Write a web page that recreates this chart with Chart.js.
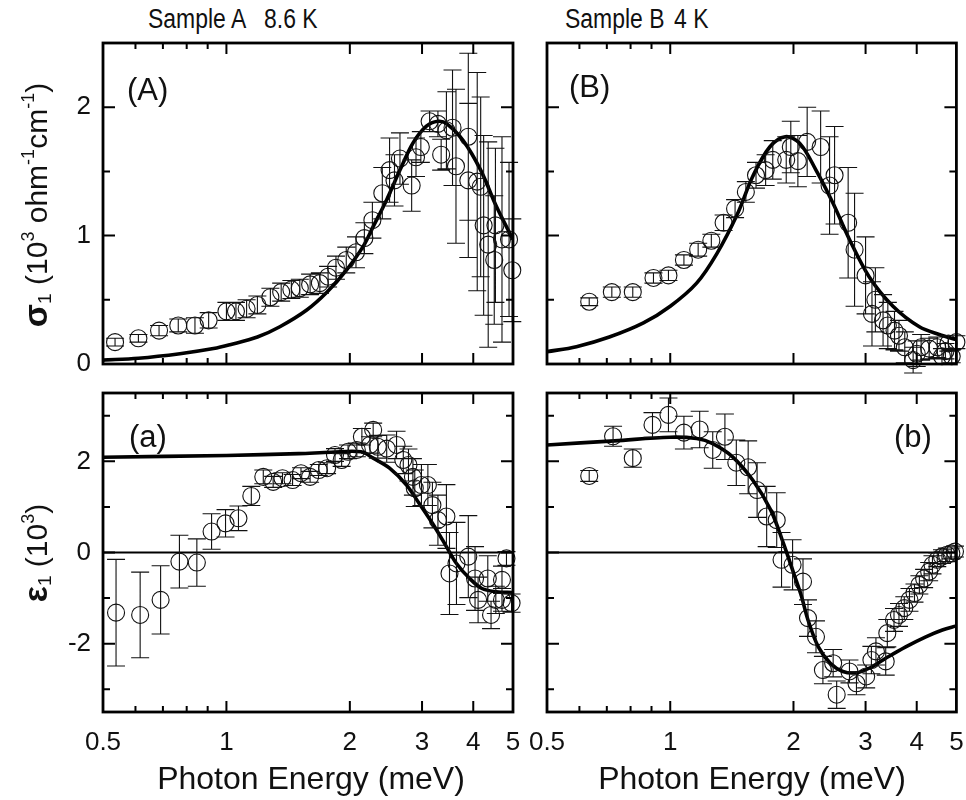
<!DOCTYPE html>
<html>
<head>
<meta charset="utf-8">
<script src="https://cdn.jsdelivr.net/npm/chart.js@4.4.1/dist/chart.umd.min.js"></script>
<style>
  html, body { margin: 0; background: #fff; }
  body { width: 966px; height: 800px; position: relative; overflow: hidden;
         font-family: "Liberation Sans", Arial, sans-serif; color: #111; }
  canvas { position: absolute; }
  .lbl { position: absolute; white-space: nowrap; line-height: 1; }
  .head { font-size: 27px; transform: scaleX(0.85); transform-origin: left center; }
  .xtitle { position: absolute; white-space: nowrap; line-height: 1; font-size: 32px; transform: translate(-50%, -50%); }
  .ytitle { position: absolute; white-space: nowrap; line-height: 1; font-size: 30px; transform: translate(-50%, -50%) rotate(-90deg); }
  .ytitle b { font-size: 34px; }
  .ytitle sup { font-size: 18px; vertical-align: 13px; }
  .ytitle sub { font-size: 19px; vertical-align: -4px; }
</style>
</head>
<body>
<div class="lbl head" style="left:148px;top:6px">Sample A</div>
<div class="lbl head" style="left:264px;top:6px">8.6 K</div>
<div class="lbl head" style="left:565px;top:6px">Sample B</div>
<div class="lbl head" style="left:674px;top:6px">4 K</div>

<canvas id="panelA" width="483" height="341" style="left:40px;top:33px"></canvas>
<canvas id="panelB" width="443" height="341" style="left:523px;top:33px"></canvas>
<canvas id="panela" width="483" height="417" style="left:40px;top:383px"></canvas>
<canvas id="panelb" width="443" height="417" style="left:523px;top:383px"></canvas>

<div class="lbl" style="left:127px;top:74px;font-size:31px">(A)</div>
<div class="lbl" style="left:569px;top:71px;font-size:31px">(B)</div>
<div class="lbl" style="left:129px;top:421px;font-size:31px">(a)</div>
<div class="lbl" style="left:894px;top:421px;font-size:31px">(b)</div>

<div class="ytitle" style="left:36px;top:205px"><b>σ</b><sub>1</sub> (10<sup>3</sup> ohm<sup>-1</sup>cm<sup>-1</sup>)</div>
<div class="ytitle" style="left:36px;top:553px"><b>ε</b><sub>1</sub> (10<sup>3</sup>)</div>
<div class="xtitle" style="left:311px;top:778px">Photon Energy (meV)</div>
<div class="xtitle" style="left:752px;top:778px">Photon Energy (meV)</div>

<script>
// axis ticks
const X_LABELS = [0.5, 1, 2, 3, 4, 5];
const X_MAJOR = [1, 2, 3, 4];
const X_MINOR = [0.6, 0.7, 0.8, 0.9];
const SIGMA_MAJOR = [0, 1, 2];
const SIGMA_MINOR = [0.5, 1.5];
const EPS_MAJOR = [-2, 0, 2];
const EPS_MINOR = [-3, -1, 1, 3];

// (A) sigma_1, sample A: measured points
const sigmaA_E = [0.535, 0.61, 0.685, 0.763, 0.838, 0.905, 1.00, 1.055, 1.12, 1.19, 1.28, 1.36, 1.44, 1.51, 1.60, 1.69, 1.77, 1.85, 1.96, 2.07, 2.17, 2.27, 2.40, 2.50, 2.57, 2.65, 2.83, 2.90, 2.98, 3.13, 3.28, 3.34, 3.44, 3.56, 3.63, 3.89, 3.89, 4.09, 4.17, 4.24, 4.35, 4.50, 4.53, 4.70, 4.89, 4.98];
const sigmaA = [0.17, 0.20, 0.26, 0.30, 0.30, 0.34, 0.41, 0.41, 0.43, 0.46, 0.52, 0.56, 0.58, 0.59, 0.62, 0.63, 0.68, 0.75, 0.81, 0.87, 0.98, 1.12, 1.33, 1.51, 1.43, 1.60, 1.39, 1.61, 1.69, 1.89, 1.87, 1.63, 1.82, 1.84, 1.54, 1.77, 1.43, 1.42, 1.38, 1.08, 0.93, 0.81, 1.08, 0.97, 0.97, 0.73];
const sigmaA_err = [0.03, 0.03, 0.04, 0.05, 0.06, 0.06, 0.07, 0.07, 0.07, 0.07, 0.07, 0.07, 0.07, 0.07, 0.08, 0.08, 0.08, 0.09, 0.10, 0.12, 0.12, 0.14, 0.20, 0.25, 0.20, 0.20, 0.20, 0.15, 0.12, 0.08, 0.10, 0.12, 0.30, 0.45, 0.60, 0.65, 0.60, 0.85, 0.70, 0.70, 0.80, 0.50, 0.60, 0.80, 0.60, 0.40];
// (A) fit
const fitA_E = [0.5, 0.61, 0.77, 0.93, 1.02, 1.19, 1.35, 1.57, 1.76, 1.96, 2.15, 2.28, 2.46, 2.65, 2.85, 3.07, 3.28, 3.45, 3.78, 4.17, 4.55, 5.0];
const fitA = [0.03, 0.045, 0.08, 0.12, 0.15, 0.21, 0.29, 0.42, 0.56, 0.73, 0.91, 1.07, 1.28, 1.51, 1.72, 1.85, 1.89, 1.87, 1.74, 1.51, 1.23, 0.97];

// (B) sigma_1, sample B
const sigmaB_E = [0.634, 0.72, 0.81, 0.91, 0.99, 1.08, 1.17, 1.26, 1.35, 1.44, 1.53, 1.62, 1.71, 1.78, 1.92, 1.97, 2.05, 2.16, 2.33, 2.45, 2.52, 2.72, 2.82, 3.00, 3.11, 3.17, 3.31, 3.40, 3.53, 3.62, 3.74, 3.92, 4.00, 4.10, 4.29, 4.49, 4.61, 4.70, 4.78, 4.87, 5.0];
const sigmaB = [0.485, 0.56, 0.56, 0.67, 0.69, 0.81, 0.89, 0.96, 1.10, 1.21, 1.34, 1.47, 1.51, 1.59, 1.59, 1.69, 1.58, 1.73, 1.69, 1.39, 1.47, 1.10, 0.89, 0.69, 0.39, 0.50, 0.34, 0.30, 0.26, 0.22, 0.13, 0.03, 0.08, 0.13, 0.12, 0.13, 0.06, 0.10, 0.16, 0.06, 0.17];
const sigmaB_err = [0.03, 0.04, 0.04, 0.04, 0.04, 0.04, 0.05, 0.05, 0.06, 0.07, 0.08, 0.10, 0.12, 0.15, 0.18, 0.20, 0.20, 0.27, 0.28, 0.38, 0.38, 0.43, 0.44, 0.30, 0.25, 0.25, 0.20, 0.18, 0.15, 0.12, 0.12, 0.10, 0.10, 0.10, 0.08, 0.08, 0.06, 0.06, 0.06, 0.05, 0.05];
const fitB_E = [0.50, 0.59, 0.71, 0.86, 1.00, 1.16, 1.30, 1.46, 1.59, 1.75, 1.91, 2.07, 2.27, 2.50, 2.74, 3.06, 3.50, 4.06, 4.54, 5.0];
const fitB = [0.096, 0.135, 0.21, 0.32, 0.45, 0.63, 0.86, 1.17, 1.46, 1.69, 1.77, 1.72, 1.51, 1.25, 0.97, 0.68, 0.45, 0.29, 0.23, 0.19];

// (a) eps_1, sample A
const epsA_E = [0.538, 0.616, 0.691, 0.768, 0.847, 0.92, 0.995, 1.07, 1.15, 1.23, 1.30, 1.37, 1.45, 1.52, 1.60, 1.68, 1.76, 1.84, 1.91, 1.98, 2.08, 2.14, 2.24, 2.28, 2.34, 2.46, 2.60, 2.70, 2.78, 2.85, 2.88, 2.99, 3.10, 3.18, 3.28, 3.44, 3.50, 3.64, 3.89, 4.04, 4.11, 4.34, 4.42, 4.54, 4.70, 4.70, 4.82, 4.96];
const epsA = [-1.32, -1.37, -1.04, -0.20, -0.22, 0.46, 0.64, 0.75, 1.24, 1.66, 1.55, 1.63, 1.59, 1.74, 1.66, 1.81, 1.85, 2.14, 2.03, 2.21, 2.25, 2.54, 2.36, 2.69, 2.32, 2.28, 2.36, 2.03, 1.92, 1.66, 1.41, 1.48, 1.48, 1.04, 0.71, 0.79, -0.46, -0.24, -0.09, -0.57, -1.04, -0.57, -1.37, -1.04, -0.60, -1.04, -0.13, -1.11];
const epsA_err = [1.17, 0.94, 0.75, 0.58, 0.52, 0.39, 0.30, 0.27, 0.21, 0.15, 0.12, 0.12, 0.12, 0.12, 0.12, 0.12, 0.12, 0.14, 0.14, 0.15, 0.15, 0.18, 0.18, 0.15, 0.25, 0.30, 0.30, 0.30, 0.35, 0.40, 0.40, 0.45, 0.45, 0.50, 0.55, 0.70, 0.90, 0.90, 0.90, 0.70, 0.50, 0.50, 0.30, 0.30, 0.30, 0.25, 0.15, 0.20];
const fitEpsA_E = [0.5, 1.0, 1.5, 1.8, 2.13, 2.28, 2.5, 2.75, 2.95, 3.18, 3.44, 3.64, 3.92, 4.2, 4.55, 5.0];
const fitEpsA = [2.09, 2.13, 2.17, 2.20, 2.21, 2.07, 1.85, 1.48, 1.08, 0.64, 0.13, -0.24, -0.57, -0.79, -0.86, -0.88];

// (b) eps_1, sample B
const epsB_E = [0.634, 0.725, 0.81, 0.905, 0.99, 1.08, 1.18, 1.27, 1.36, 1.45, 1.55, 1.63, 1.72, 1.82, 1.87, 1.99, 2.11, 2.17, 2.27, 2.36, 2.50, 2.55, 2.74, 2.85, 3.01, 3.10, 3.18, 3.36, 3.39, 3.52, 3.62, 3.73, 3.84, 3.95, 4.06, 4.17, 4.29, 4.37, 4.49, 4.61, 4.74, 4.86, 4.96];
const epsB = [1.68, 2.55, 2.07, 2.80, 3.02, 2.63, 2.70, 2.25, 2.54, 1.97, 1.87, 1.37, 0.79, 0.71, -0.16, -0.27, -0.64, -1.44, -1.85, -2.58, -2.43, -3.12, -2.61, -2.87, -2.72, -2.36, -2.17, -2.39, -1.77, -1.48, -1.37, -1.22, -1.04, -0.89, -0.71, -0.57, -0.42, -0.27, -0.16, -0.09, -0.05, -0.02, 0.02];
const epsB_err = [0.12, 0.22, 0.20, 0.27, 0.37, 0.36, 0.40, 0.40, 0.50, 0.50, 0.58, 0.60, 0.66, 0.60, 0.60, 0.55, 0.50, 0.40, 0.35, 0.30, 0.30, 0.30, 0.25, 0.25, 0.25, 0.30, 0.30, 0.30, 0.30, 0.25, 0.25, 0.25, 0.25, 0.20, 0.20, 0.20, 0.20, 0.20, 0.15, 0.15, 0.15, 0.12, 0.12];
const fitEpsB_E = [0.50, 0.73, 1.00, 1.16, 1.27, 1.42, 1.59, 1.76, 1.89, 2.01, 2.09, 2.17, 2.30, 2.46, 2.64, 2.85, 3.06, 3.36, 3.76, 4.21, 4.62, 5.0];
const fitEpsB = [2.36, 2.45, 2.53, 2.50, 2.39, 2.10, 1.59, 0.93, 0.20, -0.50, -0.95, -1.48, -2.07, -2.43, -2.61, -2.64, -2.54, -2.32, -2.07, -1.85, -1.70, -1.61];

const FONT = { family: '"Liberation Sans", Arial, sans-serif', size: 26 };
const INK = '#111';

// frame, inner ticks, zero line and error bars, all placed through the chart's scales
const framePlugin = {
  id: 'frame',
  beforeDatasetsDraw(chart, args, opts) {
    if (!opts.zero) return;
    const { ctx, chartArea: a, scales: { y } } = chart;
    const py = y.getPixelForValue(0);
    ctx.save();
    ctx.strokeStyle = '#000';
    ctx.lineWidth = 2.2;
    ctx.beginPath();
    ctx.moveTo(a.left, py);
    ctx.lineTo(a.right, py);
    ctx.stroke();
    ctx.restore();
  },
  afterDatasetsDraw(chart) {
    const { ctx, scales: { x, y } } = chart;
    const pts = chart.data.datasets[1].data;
    ctx.save();
    ctx.strokeStyle = INK;
    ctx.lineWidth = 1.1;
    ctx.beginPath();
    pts.forEach(p => {
      const px = x.getPixelForValue(p.x);
      const top = y.getPixelForValue(p.y + p.err);
      const bot = y.getPixelForValue(p.y - p.err);
      ctx.moveTo(px, top); ctx.lineTo(px, bot);
      ctx.moveTo(px - 9, top); ctx.lineTo(px + 9, top);
      ctx.moveTo(px - 9, bot); ctx.lineTo(px + 9, bot);
    });
    ctx.stroke();
    ctx.restore();
  },
  afterDraw(chart, args, opts) {
    const { ctx, chartArea: a, scales: { x, y } } = chart;
    ctx.save();
    ctx.strokeStyle = '#000';
    ctx.lineWidth = 2;
    ctx.beginPath();
    const xt = (vals, len) => vals.forEach(v => {
      const px = x.getPixelForValue(v);
      ctx.moveTo(px, a.top); ctx.lineTo(px, a.top + len);
      ctx.moveTo(px, a.bottom); ctx.lineTo(px, a.bottom - len);
    });
    const yt = (vals, len) => vals.forEach(v => {
      const py = y.getPixelForValue(v);
      ctx.moveTo(a.left, py); ctx.lineTo(a.left + len, py);
      ctx.moveTo(a.right, py); ctx.lineTo(a.right - len, py);
    });
    xt(X_MAJOR, 11);
    xt(X_MINOR, 6);
    yt(opts.yMajor, 12);
    yt(opts.yMinor, 7);
    ctx.stroke();
    ctx.lineWidth = 2.8;
    ctx.strokeRect(a.left, a.top, a.right - a.left, a.bottom - a.top);
    ctx.restore();
  }
};

function makePanel(id, p) {
  return new Chart(document.getElementById(id), {
    type: 'scatter',
    data: {
      datasets: [
        {
          type: 'line',
          data: p.fitX.map((x, i) => ({ x, y: p.fitY[i] })),
          borderColor: '#000', borderWidth: 3.6, pointRadius: 0,
          tension: 0.35, fill: false
        },
        {
          data: p.xs.map((x, i) => ({ x, y: p.ys[i], err: p.errs[i] })),
          pointStyle: 'circle', pointRadius: 8.5, pointHoverRadius: 8.5,
          borderColor: INK, borderWidth: 1.1, backgroundColor: 'rgba(0,0,0,0)',
          clip: false
        }
      ]
    },
    options: {
      responsive: false, animation: false, devicePixelRatio: 1,
      layout: { padding: p.pad },
      events: [],
      plugins: {
        legend: { display: false }, tooltip: { enabled: false },
        frame: { zero: p.zero, yMajor: p.yMajor, yMinor: p.yMinor }
      },
      scales: {
        x: {
          type: 'logarithmic', min: 0.5, max: 5, bounds: 'data', display: p.showX,
          grid: { display: false, drawTicks: false }, border: { display: false },
          afterBuildTicks: s => { s.ticks = X_LABELS.map(v => ({ value: v })); },
          afterFit: s => {
            s.paddingLeft = 0; s.paddingRight = 0;
            s.height = p.showX ? 50 : 0;
          },
          ticks: { autoSkip: false, maxRotation: 0, minRotation: 0, padding: 15, font: FONT, color: INK, callback: v => String(v) }
        },
        y: {
          type: 'linear', min: p.yMin, max: p.yMax, display: p.showY,
          grid: { display: false, drawTicks: false }, border: { display: false },
          afterBuildTicks: s => { s.ticks = p.yMajor.map(v => ({ value: v })); },
          afterFit: s => {
            s.paddingTop = 0; s.paddingBottom = 0;
            s.width = p.showY ? 40 : 0;
          },
          ticks: { padding: 12, font: FONT, color: INK, callback: v => String(v) }
        }
      }
    },
    plugins: [framePlugin]
  });
}

makePanel('panelA', {
  xs: sigmaA_E, ys: sigmaA, errs: sigmaA_err, fitX: fitA_E, fitY: fitA,
  yMin: 0, yMax: 2.5, yMajor: SIGMA_MAJOR, yMinor: SIGMA_MINOR,
  showX: false, showY: true, zero: false,
  pad: { left: 23, right: 10, top: 10, bottom: 10 }
});
makePanel('panelB', {
  xs: sigmaB_E, ys: sigmaB, errs: sigmaB_err, fitX: fitB_E, fitY: fitB,
  yMin: 0, yMax: 2.5, yMajor: SIGMA_MAJOR, yMinor: SIGMA_MINOR,
  showX: false, showY: false, zero: false,
  pad: { left: 24, right: 9, top: 10, bottom: 10 }
});
makePanel('panela', {
  xs: epsA_E, ys: epsA, errs: epsA_err, fitX: fitEpsA_E, fitY: fitEpsA,
  yMin: -3.5, yMax: 3.5, yMajor: EPS_MAJOR, yMinor: EPS_MINOR,
  showX: true, showY: true, zero: true,
  pad: { left: 23, right: 10, top: 10, bottom: 38 }
});
makePanel('panelb', {
  xs: epsB_E, ys: epsB, errs: epsB_err, fitX: fitEpsB_E, fitY: fitEpsB,
  yMin: -3.5, yMax: 3.5, yMajor: EPS_MAJOR, yMinor: EPS_MINOR,
  showX: true, showY: false, zero: true,
  pad: { left: 24, right: 9, top: 10, bottom: 38 }
});
</script>
</body>
</html>
